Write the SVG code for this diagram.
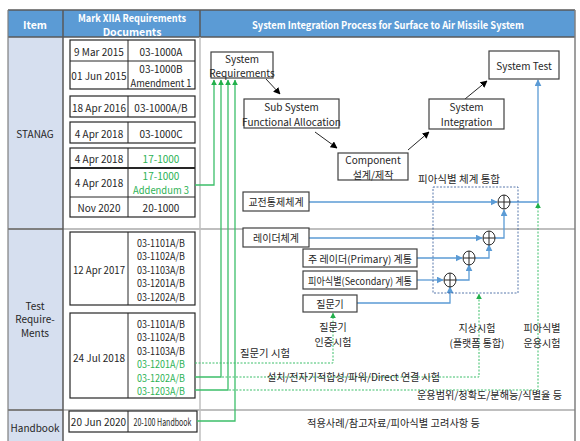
<svg xmlns="http://www.w3.org/2000/svg" width="580" height="441" viewBox="0 0 580 441">
<style>
text{font-family:"Noto Sans CJK KR","Noto Sans",sans-serif;font-size:10px;fill:#262626;text-anchor:middle;dominant-baseline:central}
.h{fill:#fff;font-weight:bold;font-size:10.5px}
.g{fill:#2DB255}
.doc{fill:#fff;stroke:#262626;stroke-width:1.2}
.pb{fill:#fff;stroke:#404040;stroke-width:1.2}
.gl{fill:none;stroke:#3CBF6A;stroke-width:1.3}
.gd{fill:none;stroke:#3CBF6A;stroke-width:1;stroke-dasharray:2 1.5}
.bl{fill:none;stroke:#5B9BD5;stroke-width:1.3}
.kl{fill:none;stroke:#262626;stroke-width:1}
.cir{fill:#fff;stroke:#262626;stroke-width:1}
</style>
<defs>
<marker id="ag" viewBox="0 0 10 10" refX="9" refY="5" markerWidth="6" markerHeight="6" orient="auto-start-reverse" markerUnits="userSpaceOnUse"><path d="M0,0L10,5L0,10z" fill="#22B04B"/></marker>
<marker id="ab" viewBox="0 0 10 10" refX="9" refY="5" markerWidth="7" markerHeight="7" orient="auto-start-reverse" markerUnits="userSpaceOnUse"><path d="M0,0L10,5L0,10z" fill="#5B9BD5"/></marker>
<marker id="ak" viewBox="0 0 10 10" refX="9" refY="5" markerWidth="7" markerHeight="7" orient="auto-start-reverse" markerUnits="userSpaceOnUse"><path d="M0,0L10,5L0,10z" fill="#000"/></marker>
</defs>

<g id="table">
<rect x="8" y="37" width="55" height="404" fill="#D6DFEF"/>
<rect x="8" y="10" width="567" height="27" fill="#5B9BD5"/>
<line x1="8" y1="10" x2="575" y2="10" stroke="#595959" stroke-width="1.5"/>
<line x1="8" y1="37" x2="575" y2="37" stroke="#595959" stroke-width="1.5"/>
<line x1="8" y1="229" x2="575" y2="229" stroke="#BFBFBF" stroke-width="2"/>
<line x1="8" y1="410" x2="575" y2="410" stroke="#BFBFBF" stroke-width="2"/>
<line x1="8" y1="229" x2="63" y2="229" stroke="#7F7F7F" stroke-width="2"/>
<line x1="8" y1="410" x2="63" y2="410" stroke="#7F7F7F" stroke-width="2"/>
<line x1="8" y1="10" x2="8" y2="441" stroke="#7F7F7F" stroke-width="1.2"/>
<line x1="63" y1="10" x2="63" y2="441" stroke="#595959" stroke-width="1.5"/>
<line x1="200" y1="10" x2="200" y2="37" stroke="#595959" stroke-width="1.5"/>
<line x1="200" y1="37" x2="200" y2="441" stroke="#BFBFBF" stroke-width="1.5"/>
<line x1="575" y1="10" x2="575" y2="441" stroke="#7F7F7F" stroke-width="1.5"/>
<text class="h" x="35" y="24">Item</text>
<text class="h" x="132" y="17.5" textLength="108" lengthAdjust="spacingAndGlyphs">Mark XIIA Requirements</text>
<text class="h" x="132" y="31">Documents</text>
<text class="h" x="388" y="24" textLength="272" lengthAdjust="spacingAndGlyphs">System Integration Process for Surface to Air Missile System</text>
<text x="35" y="133">STANAG</text>
<text x="35" y="305">Test</text>
<text x="35" y="318.5">Require-</text>
<text x="35" y="332">Ments</text>
<text x="35" y="427">Handbook</text>
</g>

<g id="doc-2015">
<rect class="doc" x="70" y="40" width="125" height="49"/>
<line class="kl" x1="70" y1="61" x2="195" y2="61"/>
<line class="kl" x1="128" y1="40" x2="128" y2="89"/>
<text x="99" y="51">9 Mar 2015</text><text x="161" y="51">03-1000A</text>
<text x="99" y="75">01 Jun 2015</text><text x="161" y="68.5">03-1000B</text><text x="161" y="82" textLength="61" lengthAdjust="spacingAndGlyphs">Amendment 1</text>
</g>
<g id="doc-2016">
<rect class="doc" x="70" y="96" width="125" height="21"/>
<line class="kl" x1="128" y1="96" x2="128" y2="117"/>
<text x="99" y="107">18 Apr 2016</text><text x="161" y="107">03-1000A/B</text>
</g>
<g id="doc-1000C">
<rect class="doc" x="70" y="122" width="125" height="21"/>
<line class="kl" x1="128" y1="122" x2="128" y2="143"/>
<text x="99" y="133">4 Apr 2018</text><text x="161" y="133">03-1000C</text>
</g>
<g id="doc-17-1000">
<rect class="doc" x="70" y="148" width="125" height="69"/>
<line x1="70" y1="168" x2="195" y2="168" stroke="#262626" stroke-width="1.8"/>
<line class="kl" x1="70" y1="197" x2="195" y2="197"/>
<line class="kl" x1="128" y1="148" x2="128" y2="217"/>
<text x="99" y="158">4 Apr 2018</text><text class="g" x="161" y="158">17-1000</text>
<text x="99" y="182">4 Apr 2018</text><text class="g" x="161" y="175.5">17-1000</text><text class="g" x="161" y="189" textLength="56" lengthAdjust="spacingAndGlyphs">Addendum 3</text>
<text x="99" y="207">Nov 2020</text><text x="161" y="207">20-1000</text>
</g>
<g id="doc-test-2017">
<rect class="doc" x="70" y="232" width="125" height="73"/>
<line class="kl" x1="128" y1="232" x2="128" y2="305"/>
<text x="99" y="269" textLength="52" lengthAdjust="spacingAndGlyphs">12 Apr 2017</text>
<text x="161" y="242" textLength="48" lengthAdjust="spacingAndGlyphs">03-1101A/B</text>
<text x="161" y="255.5" textLength="48" lengthAdjust="spacingAndGlyphs">03-1102A/B</text>
<text x="161" y="269" textLength="48" lengthAdjust="spacingAndGlyphs">03-1103A/B</text>
<text x="161" y="282.5" textLength="48" lengthAdjust="spacingAndGlyphs">03-1201A/B</text>
<text x="161" y="296" textLength="48" lengthAdjust="spacingAndGlyphs">03-1202A/B</text>
</g>
<g id="doc-test-2018">
<rect class="doc" x="70" y="313" width="125" height="85"/>
<line class="kl" x1="128" y1="313" x2="128" y2="398"/>
<text x="99" y="357">24 Jul 2018</text>
<text x="161" y="323" textLength="48" lengthAdjust="spacingAndGlyphs">03-1101A/B</text>
<text x="161" y="336.5" textLength="48" lengthAdjust="spacingAndGlyphs">03-1102A/B</text>
<text x="161" y="350" textLength="48" lengthAdjust="spacingAndGlyphs">03-1103A/B</text>
<text class="g" x="161" y="363.5" textLength="48" lengthAdjust="spacingAndGlyphs">03-1201A/B</text>
<text class="g" x="161" y="377" textLength="48" lengthAdjust="spacingAndGlyphs">03-1202A/B</text>
<text class="g" x="161" y="390.5" textLength="48" lengthAdjust="spacingAndGlyphs">03-1203A/B</text>
</g>
<g id="doc-handbook">
<rect class="doc" x="69" y="411" width="128" height="21"/>
<line class="kl" x1="128" y1="411" x2="128" y2="432"/>
<text x="98.5" y="421.5">20 Jun 2020</text>
<text x="162.5" y="421.5" textLength="58" lengthAdjust="spacingAndGlyphs">20-100 Handbook</text>
</g>

<g id="connectors">
<polyline class="kl" points="266,79 280,94" marker-end="url(#ak)"/>
<polyline class="kl" points="315,132 337,148" marker-end="url(#ak)"/>
<polyline class="kl" points="408,150 429,132" marker-end="url(#ak)"/>
<polyline class="kl" points="465,99 487,81" marker-end="url(#ak)"/>

<polyline class="gl" points="195,185 214,185 214,80" marker-end="url(#ag)"/>
<polyline class="gl" points="195,377 221,377 221,80" marker-end="url(#ag)"/>
<polyline class="gl" points="195,390 228,390 228,80" marker-end="url(#ag)"/>
<polyline class="gl" points="197,421 235,421 235,80" marker-end="url(#ag)"/>
<polyline class="gd" points="195,363 333,363 333,313" marker-end="url(#ag)"/>
<polyline class="gd" points="222,377 479,377 479,294" marker-end="url(#ag)"/>
<polyline class="gd" points="229,390 538,390 538,203" marker-end="url(#ag)"/>

<polyline class="bl" points="309,202 497,202" marker-end="url(#ab)"/>
<polyline class="bl" points="510,202 538,202 538,80" marker-end="url(#ab)"/>
<polyline class="bl" points="309,238 482,238" marker-end="url(#ab)"/>
<polyline class="bl" points="495,238 504,238 504,210" marker-end="url(#ab)"/>
<polyline class="bl" points="417,258 462,258" marker-end="url(#ab)"/>
<polyline class="bl" points="475,258 489,258 489,245" marker-end="url(#ab)"/>
<polyline class="bl" points="417,280 443,280" marker-end="url(#ab)"/>
<polyline class="bl" points="456,280 469,280 469,265" marker-end="url(#ab)"/>
<polyline class="bl" points="357,303 450,303 450,287" marker-end="url(#ab)"/>
</g>

<g id="sys-req"><rect class="pb" x="211" y="52" width="62" height="26"/><text x="242" y="58">System</text><text x="242" y="72.5">Requirements</text></g>
<g id="sub-system"><rect class="pb" x="244" y="99" width="95" height="29"/><text x="291.5" y="106.5">Sub System</text><text x="291.5" y="121">Functional Allocation</text></g>
<g id="component"><rect class="pb" x="338" y="153" width="70" height="27"/><text x="373" y="159.5">Component</text><text x="373" y="174">설계/제작</text></g>
<g id="sys-integration"><rect class="pb" x="429" y="99" width="75" height="30"/><text x="466.5" y="106.5">System</text><text x="466.5" y="121">Integration</text></g>
<g id="sys-test"><rect class="pb" x="489" y="51" width="70" height="28"/><text x="524" y="65">System Test</text></g>

<g id="iff-integration">
<rect x="433" y="187" width="85" height="106" fill="none" stroke="#2F5597" stroke-width="0.8" stroke-dasharray="2 1.5"/>
<text x="459" y="178" textLength="82" lengthAdjust="spacingAndGlyphs">피아식별 체계 통합</text>
</g>
<g id="sum1"><ellipse class="cir" cx="504" cy="202" rx="6" ry="7"/><path d="M498,202H510M504,195V209" stroke="#262626" stroke-width="1"/></g>
<g id="sum2"><ellipse class="cir" cx="489" cy="238" rx="6" ry="7"/><path d="M483,238H495M489,231V245" stroke="#262626" stroke-width="1"/></g>
<g id="sum3"><ellipse class="cir" cx="469" cy="258" rx="6" ry="7"/><path d="M463,258H475M469,251V265" stroke="#262626" stroke-width="1"/></g>
<g id="sum4"><ellipse class="cir" cx="450" cy="280" rx="6" ry="7"/><path d="M444,280H456M450,273V287" stroke="#262626" stroke-width="1"/></g>

<g id="fire-control"><rect class="pb" x="243" y="192" width="66" height="19"/><text x="276" y="201.5">교전통제체계</text></g>
<g id="radar"><rect class="pb" x="243" y="228" width="66" height="19"/><text x="276" y="237.5">레이더체계</text></g>
<g id="primary"><rect class="pb" x="303" y="249" width="114" height="18"/><text x="360" y="258" textLength="104" lengthAdjust="spacingAndGlyphs">주 레이더(Primary)  계통</text></g>
<g id="secondary"><rect class="pb" x="303" y="271" width="114" height="18"/><text x="360" y="280" textLength="104" lengthAdjust="spacingAndGlyphs">피아식별(Secondary)  계통</text></g>
<g id="interrogator"><rect class="pb" x="303" y="295" width="54" height="17"/><text x="330" y="303.5">질문기</text></g>

<g id="labels">
<text x="333" y="326">질문기</text><text x="333" y="341">인증시험</text>
<text x="477" y="327">지상시험</text><text x="477" y="342">(플랫폼 통합)</text>
<text x="542" y="327">피아식별</text><text x="542" y="342">운용시험</text>
<text x="265" y="352" textLength="50" lengthAdjust="spacingAndGlyphs">질문기 시험</text>
<text x="353.5" y="376" textLength="173" lengthAdjust="spacingAndGlyphs">설치/전자기적합성/파워/Direct 연결 시험</text>
<text x="489.5" y="394" textLength="145" lengthAdjust="spacingAndGlyphs">운용범위/정확도/분해능/식별율 등</text>
<text x="393.5" y="422" textLength="173" lengthAdjust="spacingAndGlyphs">적용사례/참고자료/피아식별 고려사항 등</text>
</g>
</svg>
